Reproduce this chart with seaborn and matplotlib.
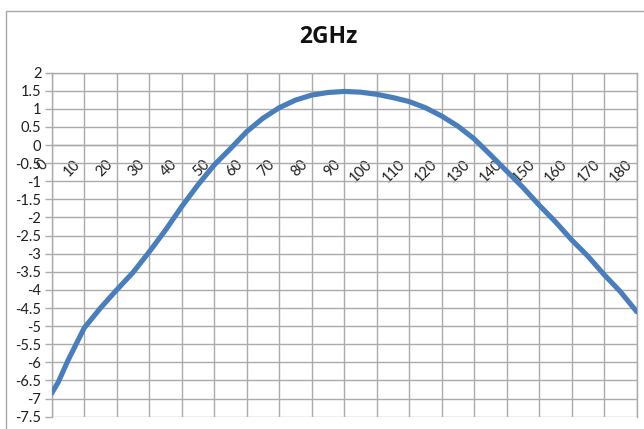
import matplotlib
matplotlib.use("Agg")
import matplotlib.pyplot as plt
import matplotlib.patches as mpatches
from matplotlib.transforms import ScaledTranslation
import seaborn as sns
import pandas as pd

# Data
angles = [0, 2, 5, 10, 15, 20, 25, 30, 35, 40, 45, 50, 55, 60, 65, 70, 75, 80, 85,
          90, 95, 100, 105, 110, 115, 120, 125, 130, 135, 140, 145, 150, 155, 160,
          165, 170, 175, 180]
gain = [-6.85, -6.55, -5.95, -5.05, -4.5, -4.0, -3.52, -2.95, -2.35, -1.7, -1.1,
        -0.55, -0.1, 0.37, 0.74, 1.03, 1.24, 1.38, 1.45, 1.48, 1.46, 1.40, 1.31,
        1.2, 1.03, 0.8, 0.52, 0.17, -0.27, -0.72, -1.17, -1.66, -2.12, -2.62,
        -3.07, -3.58, -4.05, -4.6]
x_ticks = list(range(0, 181, 10))
y_ticks = [2, 1.5, 1, 0.5, 0, -0.5, -1, -1.5, -2, -2.5, -3, -3.5, -4, -4.5, -5,
           -5.5, -6, -6.5, -7, -7.5]
y_tick_labels = ["2", "1.5", "1", "0.5", "0", "-0.5", "-1", "-1.5", "-2", "-2.5",
                 "-3", "-3.5", "-4", "-4.5", "-5", "-5.5", "-6", "-6.5", "-7", "-7.5"]
title = "2GHz"

df = pd.DataFrame({"angle": angles, "gain": gain})

sns.set_style("white")
plt.rcParams["font.family"] = ["Lato", "DejaVu Sans"]

W, H = 644, 429
fig = plt.figure(figsize=(W / 100, H / 100), dpi=100)

# outer chart frame (only left/top visible, as in the cropped reference)
frame = mpatches.Rectangle((5.5 / W, -0.5), 2, 0.5 + 1 - 10.5 / H,
                           transform=fig.transFigure, fill=False,
                           edgecolor="#a8a8a8", linewidth=1)
fig.patches.append(frame)

left, right, top, bottom = 51.7, 636.7, 72.6, 416.7
ax = fig.add_axes([left / W, 1 - bottom / H, (right - left) / W, (bottom - top) / H])

grid_c = "#ababab"
sns.lineplot(data=df, x="angle", y="gain", ax=ax, color="#4A7EBB",
             linewidth=3.7, solid_capstyle="round", zorder=5)

ax.set_xlim(0, 180)
ax.set_ylim(-7.5, 2)

# move the x axis to y = 0 first (this resets tick objects)
for s in ax.spines.values():
    s.set_color(grid_c)
    s.set_linewidth(1)
ax.spines["bottom"].set_position(("data", 0))

ax.set_xticks(x_ticks)
ax.set_xticklabels([str(t) for t in x_ticks])
ax.set_yticks(y_ticks)
ax.set_yticklabels(y_tick_labels)
ax.set_xlabel("")
ax.set_ylabel("")

ax.grid(True, color=grid_c, linewidth=1)
ax.set_axisbelow(True)

ax.tick_params(axis="x", length=0, pad=9, labelsize=10.5, labelcolor="#1f1f1f",
               labelrotation=45)
ax.tick_params(axis="y", length=5, width=1, color=grid_c, pad=2.4,
               labelsize=10.5, labelcolor="#1f1f1f", left=True)

shift = ScaledTranslation(-1 / 72, 0, fig.dpi_scale_trans)
for lab in ax.get_xticklabels():
    lab.set_horizontalalignment("right")
    lab.set_verticalalignment("top")
    lab.set_transform(lab.get_transform() + shift)

fig.text(328.5 / W, 1 - 37 / H, title, ha="center", va="center",
         fontsize=16.5, fontweight="bold", color="#111111",
         family=["Open Sans", "DejaVu Sans"])

fig.savefig("out.png", dpi=100)
